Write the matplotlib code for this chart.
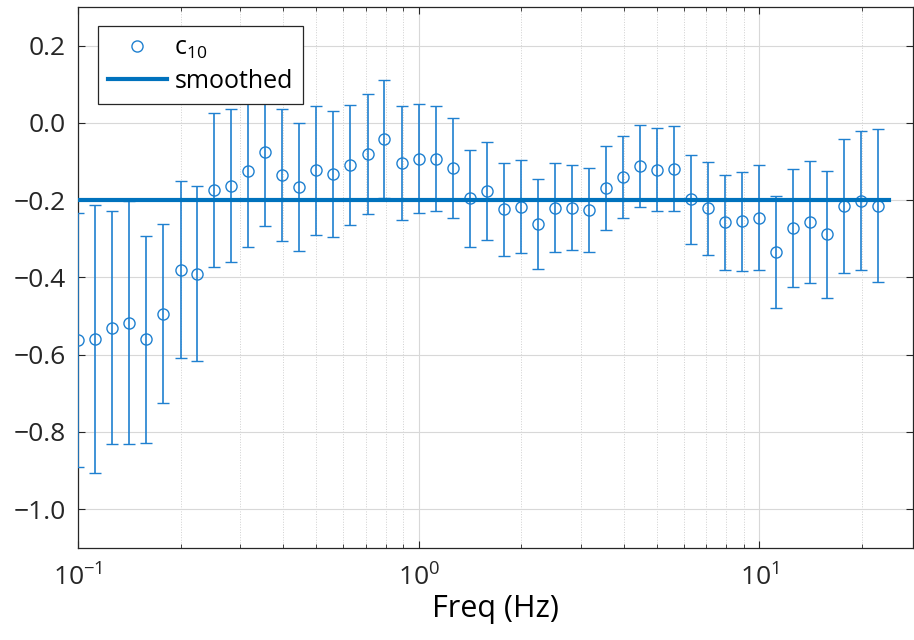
import matplotlib
matplotlib.use('Agg')
import matplotlib.pyplot as plt
import numpy as np

# frequencies (Hz), log-spaced
freq = [0.100, 0.112, 0.126, 0.141, 0.158, 0.178, 0.200, 0.224, 0.251, 0.282,
        0.316, 0.355, 0.398, 0.447, 0.501, 0.562, 0.631, 0.708, 0.794, 0.891,
        1.000, 1.122, 1.259, 1.413, 1.585, 1.778, 1.995, 2.239, 2.512, 2.818,
        3.162, 3.548, 3.981, 4.467, 5.012, 5.623, 6.310, 7.079, 7.943, 8.913,
        10.00, 11.22, 12.59, 14.13, 15.85, 17.78, 19.95, 22.39]

c10 = [-0.562, -0.559, -0.530, -0.517, -0.560, -0.494, -0.380, -0.390, -0.174, -0.162,
       -0.125, -0.076, -0.134, -0.166, -0.123, -0.132, -0.108, -0.081, -0.042, -0.104,
       -0.093, -0.093, -0.117, -0.195, -0.177, -0.224, -0.217, -0.261, -0.219, -0.219,
       -0.226, -0.168, -0.140, -0.111, -0.121, -0.118, -0.198, -0.221, -0.257, -0.255,
       -0.245, -0.334, -0.273, -0.256, -0.288, -0.215, -0.201, -0.215]

c10_err = [0.328, 0.346, 0.302, 0.314, 0.268, 0.232, 0.229, 0.226, 0.200, 0.197,
           0.196, 0.191, 0.171, 0.166, 0.166, 0.163, 0.155, 0.156, 0.152, 0.148,
           0.141, 0.136, 0.130, 0.126, 0.127, 0.121, 0.120, 0.117, 0.114, 0.111,
           0.109, 0.108, 0.105, 0.106, 0.108, 0.111, 0.116, 0.120, 0.123, 0.129,
           0.135, 0.145, 0.153, 0.158, 0.164, 0.173, 0.179, 0.198]

smooth_freq = [0.1, 24.0]
smooth_val = [-0.2, -0.2]

plt.rcParams['font.family'] = ['Open Sans', 'DejaVu Sans']
plt.rcParams['font.size'] = 19
plt.rcParams['mathtext.fontset'] = 'custom'
plt.rcParams['mathtext.rm'] = 'Open Sans'
plt.rcParams['mathtext.it'] = 'Open Sans'
plt.rcParams['mathtext.default'] = 'regular'

fig = plt.figure(figsize=(9.14, 6.4), dpi=100)
ax = fig.add_axes([0.0853, 0.144, 0.9137, 0.845])

eb = ax.errorbar(freq, c10, yerr=c10_err, fmt='o', mfc='none', mec='#1f80d0',
                 ms=8, mew=1.0, ecolor='#1f80d0', elinewidth=1.2, capsize=4,
                 capthick=1.2, zorder=3)
sm, = ax.plot(smooth_freq, smooth_val, color='#0072BD', lw=3, zorder=4)

ax.set_xscale('log')
ax.set_xlim(0.1, 28.3)
ax.set_ylim(-1.1, 0.3)
ax.set_yticks([-1.0, -0.8, -0.6, -0.4, -0.2, 0.0, 0.2])
ax.set_yticklabels(['\u22121.0', '\u22120.8', '\u22120.6', '\u22120.4', '\u22120.2', '0.0', '0.2'])
ax.set_xlabel('Freq (Hz)', fontsize=22, labelpad=2)

ax.grid(True, which='major', color='#d8d8d8', lw=0.8)
ax.grid(True, which='minor', axis='x', color='#d0d0d0', lw=0.7, ls=':')
ax.set_axisbelow(True)
ax.tick_params(which='both', direction='in', top=True, right=True, colors='#262626')
ax.tick_params(which='major', length=5, labelsize=19)
ax.tick_params(axis='y', pad=9)
ax.tick_params(axis='x', pad=12)
ax.tick_params(which='minor', length=3)
for s in ax.spines.values():
    s.set_color('#262626')
    s.set_linewidth(0.9)

leg = ax.legend([eb[0], sm], ['c$_{10}$', 'smoothed'], loc='upper left',
                bbox_to_anchor=(0.024, 0.965), borderaxespad=0,
                fancybox=False, framealpha=1, edgecolor='#262626', fontsize=18,
                handlelength=2.35, borderpad=0.4, labelspacing=0.3, handletextpad=0.3)
leg.get_frame().set_linewidth(0.9)

plt.savefig('out.png', dpi=100)
